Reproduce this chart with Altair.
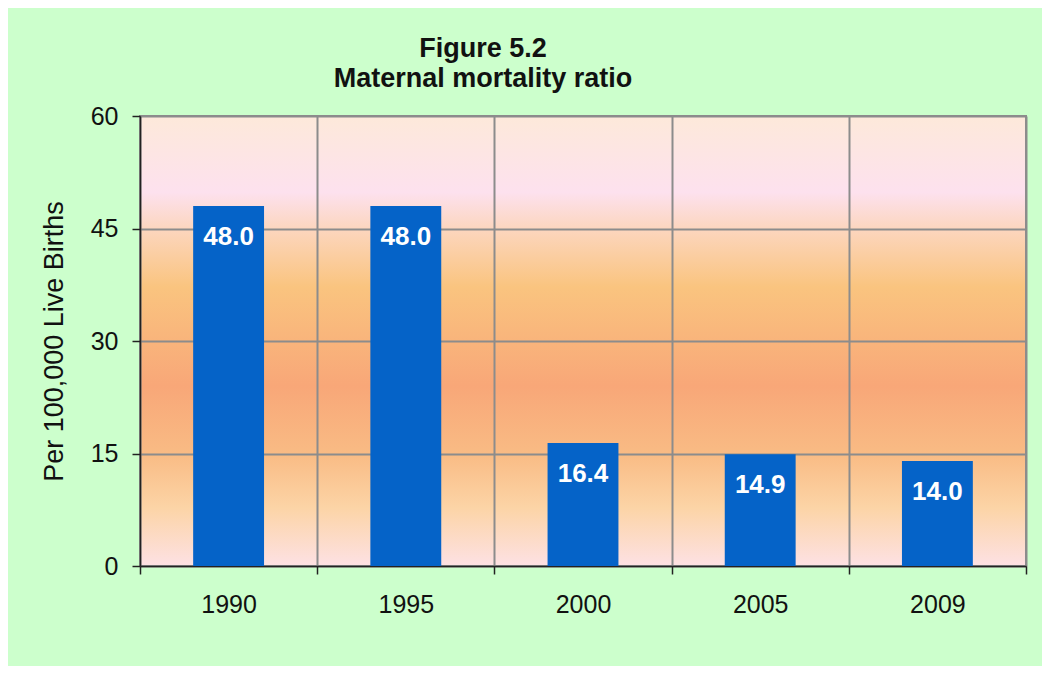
import altair as alt
import pandas as pd

years = ["1990", "1995", "2000", "2005", "2009"]
ratios = [48.0, 48.0, 16.4, 14.9, 14.0]
y_ticks = [0, 15, 30, 45, 60]

df = pd.DataFrame({"year": years, "ratio": ratios})

grad_expr = (
    "{gradient:'linear', x1:0, y1:0, x2:0, y2:1, stops:["
    "{offset:0, color:'#fde9da'},"
    "{offset:0.17, color:'#fde1ee'},"
    "{offset:0.25, color:'#fcd6bf'},"
    "{offset:0.38, color:'#fac47f'},"
    "{offset:0.6, color:'#f8a778'},"
    "{offset:0.75, color:'#f9bb84'},"
    "{offset:0.87, color:'#fcd4a6'},"
    "{offset:1, color:'#fde1e4'}]}"
)

FONT = "Liberation Sans"

base = alt.Chart(df).encode(
    x=alt.X(
        "year:N",
        sort=years,
        scale=alt.Scale(paddingInner=0, paddingOuter=0),
        axis=alt.Axis(
            title=None,
            labelAngle=0,
            tickBand="extent",
            grid=True,
            gridColor="#8c8c8c",
            gridWidth=2,
            gridOpacity=1,
            domainColor="#222222",
            domainWidth=1.5,
            tickColor="#222222",
            tickWidth=1.5,
            tickSize=8,
            labelFont=FONT,
            labelFontSize=25,
            labelColor="#111111",
            labelPadding=18,
        ),
    ),
)

bars = base.mark_bar(color="#0563c8", width=alt.RelativeBandSize(0.4)).encode(
    y=alt.Y(
        "ratio:Q",
        scale=alt.Scale(domain=[0, 60], nice=False),
        axis=alt.Axis(
            values=y_ticks,
            title="Per 100,000 Live Births",
            titleFont=FONT,
            titleFontSize=27,
            titleFontWeight="normal",
            titleColor="#111111",
            titlePadding=22,
            grid=True,
            gridColor="#8c8c8c",
            gridWidth=2,
            gridOpacity=1,
            domainColor="#222222",
            domainWidth=1.5,
            tickColor="#222222",
            tickWidth=1.5,
            tickSize=8,
            labelFont=FONT,
            labelFontSize=25,
            labelColor="#111111",
            labelPadding=14,
        ),
    )
)

labels = base.mark_text(
    color="white",
    font=FONT,
    fontSize=26,
    fontWeight="bold",
    baseline="top",
    dy=18,
).encode(
    y="ratio:Q",
    text=alt.Text("ratio:Q", format=".1f"),
)

chart = (
    alt.layer(bars, labels)
    .properties(
        width=886,
        height=450,
        background="#ccffcc",
        padding={"left": 132, "top": 108, "right": 16, "bottom": 100},
        autosize=alt.AutoSizeParams(type="none"),
        title=alt.TitleParams(
            text=["Figure 5.2", "Maternal mortality ratio"],
            font=FONT,
            fontSize=27,
            fontWeight="bold",
            color="#111111",
            lineHeight=30,
            anchor="middle",
            dx=-100,
            offset=11,
        ),
    )
    .configure_view(fill={"expr": grad_expr}, stroke="#8c8c8c", strokeWidth=2)
)

chart.save("out.html", embed_options={"renderer": "svg", "actions": False})
